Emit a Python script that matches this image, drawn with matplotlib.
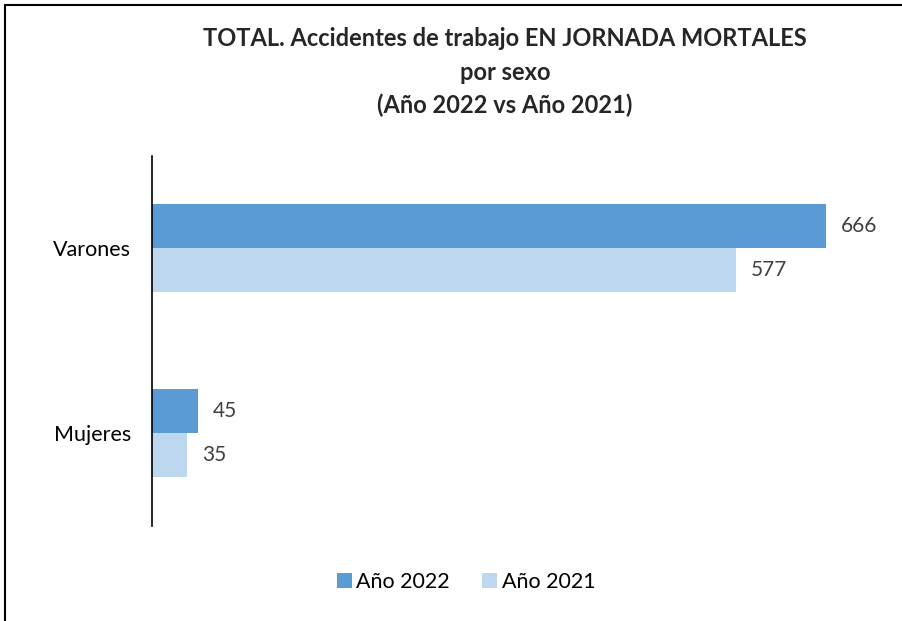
import matplotlib
matplotlib.use("Agg")
import matplotlib.pyplot as plt
from matplotlib.lines import Line2D
from matplotlib.patches import Patch

categories = ["Mujeres", "Varones"]
values_2022 = [45, 666]
values_2021 = [35, 577]
series_labels = ["Año 2022", "Año 2021"]
colors = ["#5B9BD5", "#BDD7EE"]

plt.rcParams['font.family'] = ['Lato', 'DejaVu Sans']

fig = plt.figure(figsize=(9.02, 6.21), dpi=100)
ax = fig.add_axes([152/902, 1-525.5/621, (860-152)/902, (525.5-155.5)/621])

h = 0.24
y = list(range(len(categories)))
b22 = ax.barh([v + h/2 for v in y], values_2022, height=h, color=colors[0], label=series_labels[0])
b21 = ax.barh([v - h/2 for v in y], values_2021, height=h, color=colors[1], label=series_labels[1])

for bars, vals in ((b22, values_2022), (b21, values_2021)):
    for bar, v in zip(bars, vals):
        ax.text(bar.get_width() + 15, bar.get_y() + bar.get_height()/2, str(v),
                va='center', ha='left', fontsize=15, color='#404040')

ax.set_xlim(0, 700)
ax.set_ylim(-0.5, 1.5)
ax.set_yticks(y)
ax.set_yticklabels(categories, fontsize=15.5, color='#000000')
ax.tick_params(axis='y', length=0, pad=15)
ax.set_xticks([])
for s in ['top', 'right', 'bottom']:
    ax.spines[s].set_visible(False)
ax.spines['left'].set_color('#000000')
ax.spines['left'].set_linewidth(1.2)

tx = 505/902
fig.text(tx, 1-38/621, "TOTAL. Accidentes de trabajo EN JORNADA MORTALES", ha='center', va='center',
         fontsize=17, fontweight='bold', color='#262626')
fig.text(tx, 1-73/621, "por sexo", ha='center', va='center', fontsize=17, fontweight='bold', color='#262626')
fig.text(tx, 1-105/621, "(Año 2022 vs Año 2021)", ha='center', va='center', fontsize=17, fontweight='bold', color='#262626')

handles = [Patch(facecolor=colors[0], label=series_labels[0]), Patch(facecolor=colors[1], label=series_labels[1])]
fig.legend(handles=handles, loc='center', bbox_to_anchor=(466/902, 1-582/621), ncol=2, frameon=False,
           fontsize=15.5, handlelength=0.7, handleheight=0.7, handletextpad=0.2, columnspacing=1.5)

# frame border
fig.add_artist(Line2D([5/902, 5/902], [0, 1-5/621], color='black', lw=1.5, transform=fig.transFigure))
fig.add_artist(Line2D([5/902, 1], [1-5/621, 1-5/621], color='black', lw=1.5, transform=fig.transFigure))

fig.savefig("out.png", dpi=100)
